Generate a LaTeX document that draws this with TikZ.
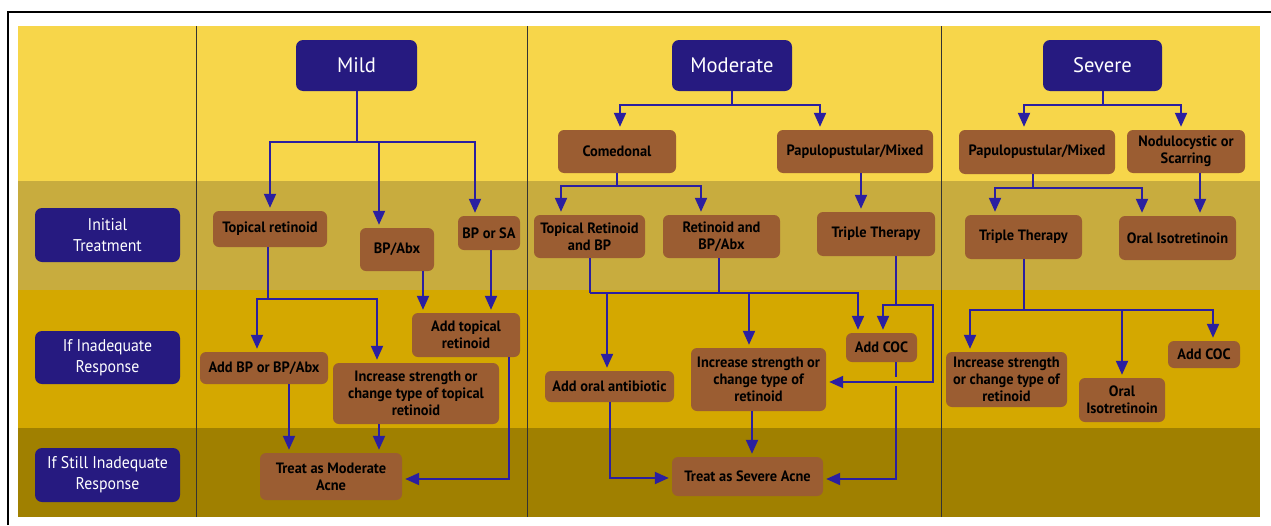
\documentclass[tikz,border=0pt]{standalone}
\usepackage{fontspec}
\setmainfont{PT Sans}[FakeStretch=0.93]
\newfontfamily\hdfont{PT Sans}[FakeStretch=0.98]
\newfontfamily\boxfont{PT Sans}[FakeStretch=0.96]
\usetikzlibrary{arrows.meta, calc}

\definecolor{bandA}{RGB}{247,214,74}
\definecolor{bandB}{RGB}{200,172,62}
\definecolor{bandC}{RGB}{212,168,0}
\definecolor{bandD}{RGB}{160,128,0}
\definecolor{navy}{RGB}{38,26,128}
\definecolor{brownbox}{RGB}{155,93,50}
\definecolor{arrblue}{RGB}{43,31,160}

\tikzset{
	sz/.style 2 args={minimum width=#1pt, minimum height=#2pt},
	hdbox/.style={fill=navy, text=white, rounded corners=7pt, align=center, inner sep=0pt, font=\hdfont\fontsize{21}{23}\selectfont},
	catbox/.style={fill=navy, text=white, rounded corners=7pt, align=center, inner sep=0pt, font=\fontsize{17}{21}\selectfont},
	trbox/.style={fill=brownbox, text=black, rounded corners=6pt, align=center, inner sep=0pt, font=\boxfont\fontsize{15}{17}\selectfont\bfseries},
	flow/.style={draw=arrblue, line width=2pt},
	flowarr/.style={flow, -{Triangle[length=14pt,width=12pt]}, shorten >=3pt},
}

\begin{document}
\begin{tikzpicture}[x=1pt, y=-1pt]
	\useasboundingbox (0,0) rectangle (1271,525);
	
	% bands
	\fill[bandA] (18,26) rectangle (1260,181);
	\fill[bandB] (18,181) rectangle (1260,290);
	\fill[bandC] (18,290) rectangle (1260,428);
	\fill[bandD] (18,428) rectangle (1260,517);
	\foreach \cx in {196,527,941}
		\draw[black!80, line width=0.8pt] (\cx,26) -- (\cx,517);
	\draw[line width=2.5pt] (8,525) -- (8,12) -- (1271,12);
	
	% row labels
	\node[catbox, sz={145}{54}] (cInit) at (107.5,235) {Initial\\Treatment};
	\node[catbox, sz={145}{53}] (cInad) at (107.5,357.5) {If Inadequate\\Response};
	\node[catbox, sz={145}{54}] (cStill) at (107.5,475) {If Still Inadequate\\Response};
	
	% headers
	\node[hdbox, sz={121}{51}] (mild) at (356.5,65.5) {Mild};
	\node[hdbox, sz={120}{51}] (moderate) at (732,65.5) {Moderate};
	\node[hdbox, sz={119}{51}] (severe) at (1102.5,65.5) {Severe};
	
	% mild
	\node[trbox, sz={114}{36}] (mTR) at (270,229) {Topical retinoid};
	\node[trbox, sz={74}{43}] (mBA) at (397,249.5) {BP/Abx};
	\node[trbox, sz={62}{34}] (mBS) at (489,233) {BP or SA};
	\node[trbox, sz={128}{32}] (mAB) at (264,368) {Add BP or BP/Abx};
	\node[trbox, sz={166}{61}] (mIS) at (416,393.5) {Increase strength or\\change type of topical\\retinoid};
	\node[trbox, sz={108}{44}] (mAT) at (466,335) {Add topical\\retinoid};
	\node[trbox, sz={142}{47}] (mTM) at (331,476.5) {Treat as Moderate\\Acne};
	
	\draw[flow] (mild.south) -- ++(0,51) coordinate (mJ1);
	\draw[flowarr] (mJ1) -| (mTR.north);
	\draw[flowarr] (mJ1) -| ([xshift=-18pt]mBA.north);
	\draw[flowarr] (mJ1) -| ([xshift=-14pt]mBS.north);
	\draw[flow] ([xshift=-2pt]mTR.south) -- ++(0,52) coordinate (mJ2);
	\draw[flowarr] (mJ2) -| ([xshift=-7pt]mAB.north);
	\draw[flowarr] (mJ2) -| ([xshift=-39pt]mIS.north);
	\draw[flowarr] ([xshift=26pt]mBA.south) -- ([xshift=26pt]mBA.south |- mAT.north);
	\draw[flowarr] ([xshift=2pt]mBS.south) -- ([xshift=2pt]mBS.south |- mAT.north);
	\draw[flowarr] ([xshift=25pt]mAB.south) -- ([xshift=25pt]mAB.south |- mTM.north);
	\draw[flowarr] ([xshift=-37pt]mIS.south) -- ([xshift=-37pt]mIS.south |- mTM.north);
	\draw[flowarr] ([xshift=43pt]mAT.south) |- ([yshift=-2.5pt]mTM.east);
	
	% moderate
	\node[trbox, sz={118}{43}] (moC) at (617,151.5) {Comedonal};
	\node[trbox, sz={156}{43}] (moP) at (855,151.5) {Papulopustular/Mixed};
	\node[trbox, sz={111}{43}] (moTRB) at (589.5,236.5) {Topical Retinoid\\and BP};
	\node[trbox, sz={117}{43}] (moRBA) at (721.5,236.5) {Retinoid and\\BP/Abx};
	\node[trbox, sz={118}{44}] (moTT) at (876,234) {Triple Therapy};
	\node[trbox, sz={129}{31}] (moAOA) at (609.5,386.5) {Add oral antibiotic};
	\node[trbox, sz={135}{63}] (moIS) at (758.5,379.5) {Increase strength or\\change type of\\retinoid};
	\node[trbox, sz={71}{29}] (moCOC) at (881.5,347.5) {Add COC};
	\node[trbox, sz={151}{39}] (moTS) at (747.5,476.5) {Treat as Severe Acne};
	
	\draw[flow] (moderate.south) -- ++(0,14) coordinate (moJ1);
	\draw[flowarr] (moJ1) -| ([xshift=3pt]moC.north);
	\draw[flowarr] (moJ1) -| ([xshift=-35pt]moP.north);
	\draw[flow] (moC.south) -- ++(0,13) coordinate (moJ2);
	\draw[flowarr] (moJ2) -| ([xshift=-28.5pt]moTRB.north);
	\draw[flowarr] (moJ2) -| ([xshift=-20.5pt]moRBA.north);
	\draw[flowarr] ([xshift=6pt]moP.south) -- ([xshift=6pt]moP.south |- moTT.north);
	\draw[flow] (moTRB.south) -- ++(0,35) coordinate (moJ3);
	\draw[flow] ([xshift=-2.5pt]moRBA.south) -- ([xshift=-2.5pt]moRBA.south |- moJ3);
	\draw[flowarr] (moJ3) -| ([xshift=-23.5pt]moCOC.north);
	\draw[flowarr] ([xshift=-2.5pt]moAOA.north |- moJ3) -- ([xshift=-2.5pt]moAOA.north);
	\draw[flowarr] ([xshift=-9.5pt]moIS.north |- moJ3) -- ([xshift=-9.5pt]moIS.north);
	\draw[flow] ([xshift=20pt]moTT.south) -- ++(0,49) coordinate (moJ4);
	\draw[flowarr] (moJ4) -| ([xshift=1.5pt]moCOC.north);
	\draw[flowarr] (moJ4) -- ++(37,0) |- ([yshift=-2.5pt]moIS.east);
	% jump over the line to moIS
	\draw[flow] ([xshift=14.5pt]moCOC.south) -- ++(0,15);
	\draw[flowarr] ([xshift=14.5pt]moCOC.south) ++(0,24) |- ([yshift=-2.5pt]moTS.east);
	\draw[flowarr] ([xshift=-6.5pt]moIS.south) -- ([xshift=-6.5pt]moIS.south |- moTS.north);
	\draw[flowarr] (moAOA.south) |- ([yshift=-1.5pt]moTS.west);
	
	% severe
	\node[trbox, sz={156}{44}] (sP) at (1037,152) {Papulopustular/Mixed};
	\node[trbox, sz={118}{43}] (sN) at (1186,151.5) {Nodulocystic or\\Scarring};
	\node[trbox, sz={117}{44}] (sTT) at (1023.5,237) {Triple Therapy};
	\node[trbox, sz={117}{44}] (sOI) at (1177.5,238) {Oral Isotretinoin};
	\node[trbox, sz={121}{55}] (sIS) at (1006.5,379.5) {Increase strength\\or change type of\\retinoid};
	\node[trbox, sz={86}{44}] (sOI2) at (1122,400) {Oral\\Isotretinoin};
	\node[trbox, sz={72}{27}] (sCOC) at (1204,354.5) {Add COC};
	
	\draw[flow] (severe.south) -- ++(0,14) coordinate (sJ1);
	\draw[flowarr] (sJ1) -| ([xshift=-13pt]sP.north);
	\draw[flowarr] (sJ1) -| ([xshift=-5pt]sN.north);
	\draw[flow] ([xshift=-4pt]sP.south) -- ++(0,14) coordinate (sJ2);
	\draw[flowarr] (sJ2) -| ([xshift=-28.5pt]sTT.north);
	\draw[flowarr] (sJ2) -| ([xshift=-35.5pt]sOI.north);
	\draw[flowarr] ([xshift=14pt]sN.south) -- ([xshift=14pt]sN.south |- sOI.north);
	\draw[flow] (sTT.south) -- ++(0,51) coordinate (sJ3);
	\draw[flowarr] (sJ3) -| ([xshift=-36.5pt]sIS.north);
	\draw[flowarr] (sJ3) -| ([xshift=9pt]sCOC.north);
	\draw[flowarr] (sOI2.north |- sJ3) -- (sOI2.north);
\end{tikzpicture}
\end{document}
